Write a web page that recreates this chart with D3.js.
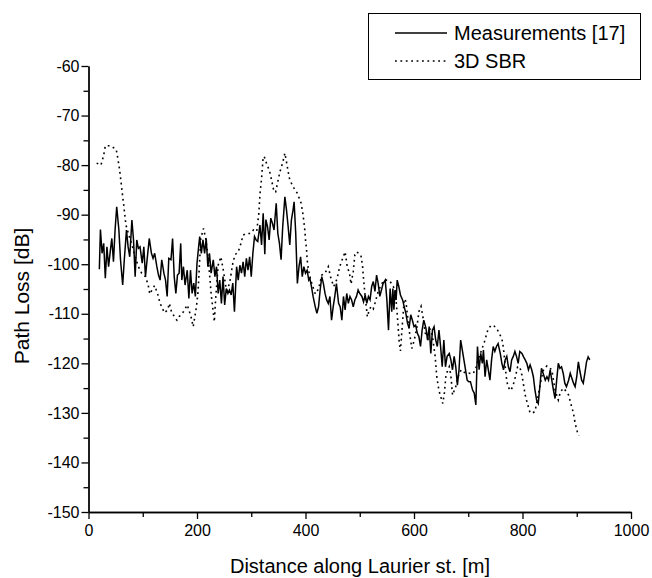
<!DOCTYPE html>
<html lang="en">
<head>
  <meta charset="UTF-8">
  <title>Path Loss along Laurier st.</title>
  <script src="https://d3js.org/d3.v7.min.js"></script>
  <style>
    body {
      margin: 0;
      background: #fff;
    }

    svg {
      display: block;
      font-family: "Liberation Sans", Arial, sans-serif;
    }

    .axis path,
    .axis line {
      stroke: #000;
      stroke-width: 1.3px;
    }

    .axis text {
      font-size: 16px;
      fill: #000;
    }

    .label {
      font-size: 20px;
      fill: #000;
    }
  </style>
</head>
<body>
  <div id="chart"></div>
  <script>
    // measured path loss (distance in m, loss in dB)
    const measDist = [20, 22, 25, 28, 31, 34, 37, 40, 43, 46, 49, 52, 56, 59, 63, 66, 70, 73, 76, 80,
      83, 86, 89, 92, 95, 99, 102, 105, 108, 112, 116, 119, 122, 126, 129, 132, 135, 139, 142, 145,
      148, 152, 155, 158, 161, 164, 167, 170, 172, 175, 178, 182, 185, 188, 191, 194, 197, 200, 203, 205,
      208, 211, 214, 217, 220, 223, 226, 230, 233, 236, 239, 242, 245, 248, 251, 254, 257, 260, 263, 266,
      269, 273, 276, 279, 282, 285, 288, 291, 294, 297, 300, 303, 306, 309, 312, 316, 319, 322, 325, 327,
      330, 333, 336, 339, 342, 346, 349, 352, 355, 358, 362, 365, 368, 371, 374, 377, 379, 382, 385, 388,
      391, 394, 397, 400, 403, 406, 408, 411, 414, 418, 421, 424, 427, 430, 433, 436, 439, 442, 445, 448,
      451, 454, 457, 461, 464, 467, 470, 473, 476, 479, 482, 485, 488, 491, 494, 497, 500, 504, 507, 510,
      513, 516, 519, 522, 525, 528, 531, 534, 537, 540, 543, 547, 550, 553, 556, 559, 561, 563, 565, 567,
      569, 572, 575, 579, 582, 585, 588, 591, 594, 597, 600, 603, 606, 609, 612, 615, 618, 622, 625, 628,
      631, 634, 637, 640, 643, 646, 649, 652, 655, 658, 661, 665, 668, 671, 674, 677, 680, 683, 686, 689,
      692, 695, 698, 701, 704, 708, 711, 714, 717, 720, 723, 726, 728, 731, 734, 737, 740, 743, 746, 749,
      752, 755, 759, 762, 765, 768, 771, 774, 777, 780, 783, 786, 789, 792, 795, 799, 802, 805, 808, 811,
      814, 817, 820, 823, 826, 829, 832, 835, 838, 842, 845, 848, 851, 854, 857, 860, 863, 866, 869, 872,
      875, 878, 881, 885, 888, 891, 894, 897, 900, 903, 906, 909, 912, 915, 918, 921, 924];
    const measLoss = [-101, -93, -97.8, -95.8, -102.8, -96.5, -100.5, -97.5, -94.8, -99.5, -93.1, -88.4, -93.1, -99.1, -104.2, -99.1, -93.1, -96.5, -98.5, -91.1,
      -95.1, -102.5, -95.1, -96.8, -96.5, -99.8, -96.5, -102.5, -99.1, -94.8, -97.8, -98.8, -97.8, -100.5, -102.2, -103.2, -99.1, -101.8, -103.2, -106.5,
      -98.8, -99.1, -94.8, -102.5, -105.9, -102.2, -101.8, -95.8, -103.2, -100.5, -104.2, -101.2, -106.9, -101.2, -105.9, -103.8, -106.5, -99.8, -96.5, -94.4,
      -97.8, -95.1, -97.8, -94.8, -100.5, -97.8, -101.8, -99.1, -102.5, -100.5, -105.9, -103.2, -107.9, -102.5, -108.2, -104.9, -105.9, -105.2, -106.2, -103.8,
      -109.6, -100.5, -103.2, -100.2, -101.8, -99.5, -102.5, -98.8, -101.2, -98.5, -102.5, -97.8, -94.4, -95.1, -95.4, -92.1, -96.1, -89.7, -98, -91,
      -92.4, -95.1, -90.7, -91.7, -93.1, -87.7, -93.8, -95.8, -99.1, -92.4, -86.4, -89.1, -92.4, -96.1, -91.1, -89.1, -87.4, -93.8, -103.9, -100.5,
      -98.5, -102.5, -100.5, -101.8, -101.2, -103.2, -102.8, -104.5, -106.5, -108.6, -109.9, -108.6, -105.2, -102.5, -103.9, -105.9, -107.2, -107.9, -106.5, -111.3,
      -108.6, -106.5, -103.9, -107.9, -108.6, -111.3, -106.5, -109.2, -105.9, -107.9, -106.5, -107.2, -108.6, -107.2, -106.5, -105.2, -105.9, -106.5, -107.6, -106.2,
      -107.9, -106.5, -107.2, -104.5, -103.5, -105.5, -102.2, -103.9, -106.5, -105.2, -103.9, -103.2, -107.2, -113.3, -104.9, -109.6, -104.9, -109.2, -105.2, -107.2,
      -103.2, -104.5, -106.2, -107.2, -108.6, -109.9, -111.9, -112.9, -110.2, -111.3, -112.6, -112.3, -113.9, -114.6, -116.6, -113.3, -111.3, -112.9, -115.3, -112.6,
      -118, -113.3, -112.6, -115.3, -116.6, -113.3, -116.6, -120.7, -115.3, -120.7, -118.6, -118, -119.3, -121.3, -118.6, -120.7, -124.4, -121.3, -115.3, -117.3,
      -119.3, -121.3, -123.4, -123.7, -123.7, -125.4, -126, -128.4, -116.6, -121.3, -118, -120, -117.3, -122.7, -119.3, -121.3, -123.4, -119.3, -116.6, -117.6,
      -116.6, -116, -118, -120, -121.3, -119.3, -118.6, -120.7, -121.7, -119.3, -118.6, -117.6, -118.6, -120, -117.6, -118, -118.7, -119.3, -120, -121.3,
      -120.3, -121.3, -122.7, -125.4, -127.4, -128.1, -124.7, -121, -122, -123.4, -122.7, -123.4, -121.3, -123.4, -125.4, -127.1, -123.4, -120, -121, -120.7,
      -122, -124, -124.7, -123.4, -122, -123, -124, -124.7, -122.7, -119.7, -121.7, -123.4, -124, -122, -119.7, -118.7, -119.3];

    // 3D SBR simulation
    const sbrDist = [15, 23, 28, 31, 40, 51, 54, 57, 59, 61, 63, 65, 67, 69, 74, 80, 86, 92, 98, 105,
      110, 113, 118, 122, 128, 132, 140, 146, 149, 153, 160, 163, 167, 175, 182, 189, 193, 199, 202, 205,
      207, 212, 216, 221, 226, 232, 234, 239, 244, 249, 255, 261, 266, 270, 276, 281, 285, 292, 298, 304,
      310, 314, 316, 319, 322, 324, 328, 334, 338, 342, 345, 349, 353, 358, 362, 365, 368, 371, 378, 385,
      392, 395, 397, 399, 400, 402, 403, 405, 408, 412, 418, 424, 430, 436, 442, 446, 452, 458, 463, 468,
      473, 477, 481, 484, 488, 491, 494, 498, 502, 505, 507, 510, 514, 518, 522, 525, 528, 534, 540, 546,
      551, 556, 562, 566, 569, 571, 573, 575, 578, 582, 585, 589, 592, 596, 600, 605, 609, 613, 617, 621,
      626, 630, 634, 639, 642, 646, 650, 653, 656, 659, 665, 668, 671, 677, 682, 687, 695, 702, 709, 714,
      719, 724, 730, 736, 742, 748, 754, 762, 765, 770, 773, 778, 782, 787, 791, 795, 799, 802, 805, 809,
      814, 819, 823, 828, 833, 838, 845, 854, 860, 866, 870, 876, 885, 889, 894, 897, 901, 904];
    const sbrLoss = [-79.6, -80, -78, -76.1, -76.1, -76.8, -78.6, -80.7, -82.5, -84.4, -86.4, -88.1, -90.1, -92.1, -94, -96, -98.5, -100.5, -101.8, -102.5,
      -104.2, -106, -105, -104.3, -106.2, -107.9, -109.8, -109.2, -107.9, -109.6, -110.9, -111.3, -110.6, -109.6, -108.2, -110.6, -112.6, -108.6, -105.5, -99,
      -94.8, -92.8, -94.8, -99.1, -105.9, -111.6, -107.6, -100.2, -98.5, -101.5, -105.9, -103.2, -99.8, -98.1, -97.5, -95.8, -94.1, -93.8, -93.8, -93.1,
      -93.4, -89.7, -86, -82.7, -78.3, -78.3, -79.6, -81.3, -83.3, -85.4, -85.4, -83.3, -81.3, -79.5, -77.6, -79.4, -81.3, -83, -84.5, -85.7,
      -87.7, -89.7, -91.4, -93.4, -95.1, -97.1, -99.1, -100.8, -102.5, -104, -106, -105, -102.2, -101.8, -100.5, -102.5, -104.5, -103, -100.5, -99,
      -97.5, -100.5, -101.8, -104, -101.5, -98.1, -97.5, -97.8, -98.1, -100.2, -103, -106.5, -110.6, -109, -108.5, -109, -107.9, -105.5, -104, -103.2,
      -103.2, -103.5, -104.5, -106, -110, -113, -116, -117.5, -113, -107, -107.5, -111.3, -114, -117, -115.5, -113, -109.6, -108.5, -111, -114,
      -115, -113, -114.5, -118.6, -122.7, -125.5, -127, -128.1, -126, -122.3, -120.7, -122.5, -126.4, -124.7, -122.5, -121.3, -122, -122, -122.1, -121,
      -119, -117.5, -115.6, -113.3, -112.3, -112.5, -113.3, -115, -117, -122.7, -124.7, -125.5, -124.7, -122.7, -120.7, -120.7, -122.4, -124.4, -126.4, -128.1,
      -130, -130, -129.7, -127, -124, -121.5, -120.5, -121.3, -125.4, -127.4, -125.7, -125, -126.4, -128.1, -130.1, -132.1, -133.8, -134.6];

    const xTicks = [0, 200, 400, 600, 800, 1000];
    const xMinor = [100, 300, 500, 700, 900];
    const yTicks = [-150, -140, -130, -120, -110, -100, -90, -80, -70, -60];
    const yMinor = [-145, -135, -125, -115, -105, -95, -85, -75, -65];
    const seriesNames = ["Measurements [17]", "3D SBR"];

    const width = 652,
          height = 578;

    const svg = d3.select("#chart")
      .append("svg")
      .attr("width", width)
      .attr("height", height);

    const x = d3.scaleLinear().domain([0, 1000]).range([88.5, 631]);
    const y = d3.scaleLinear().domain([-150, -60]).range([512, 66]);

    // plain hyphen minus, no thousands separator
    const fmt = d => String(d);

    // axes: major ticks with labels, minor ticks without
    svg.append("g")
      .attr("class", "axis")
      .attr("transform", "translate(0,512)")
      .call(d3.axisBottom(x).tickValues(xMinor).tickSize(5).tickSizeOuter(0).tickFormat(""));

    svg.append("g")
      .attr("class", "axis")
      .attr("transform", "translate(0,512)")
      .call(d3.axisBottom(x).tickValues(xTicks).tickSize(7).tickSizeOuter(0).tickPadding(6).tickFormat(fmt));

    svg.append("g")
      .attr("class", "axis")
      .attr("transform", "translate(88.5,0)")
      .call(d3.axisLeft(y).tickValues(yMinor).tickSize(5).tickSizeOuter(0).tickFormat(""));

    svg.append("g")
      .attr("class", "axis")
      .attr("transform", "translate(88.5,0)")
      .call(d3.axisLeft(y).tickValues(yTicks).tickSize(7).tickSizeOuter(0).tickPadding(2).tickFormat(fmt));

    // axis titles
    svg.append("text")
      .attr("class", "label")
      .attr("x", 360)
      .attr("y", 573)
      .attr("text-anchor", "middle")
      .text("Distance along Laurier st. [m]");

    svg.append("text")
      .attr("class", "label")
      .attr("transform", "translate(29,296) rotate(-90)")
      .attr("text-anchor", "middle")
      .style("font-size", "21px")
      .text("Path Loss [dB]");

    // lines
    const line = d3.line()
      .x(d => x(d[0]))
      .y(d => y(d[1]));

    svg.append("path")
      .datum(sbrDist.map((d, i) => [d, sbrLoss[i]]))
      .attr("fill", "none")
      .attr("stroke", "#000")
      .attr("stroke-width", 1.6)
      .attr("stroke-dasharray", "1.8,3.6")
      .attr("d", line);

    svg.append("path")
      .datum(measDist.map((d, i) => [d, measLoss[i]]))
      .attr("fill", "none")
      .attr("stroke", "#000")
      .attr("stroke-width", 1.5)
      .attr("d", line);

    // legend
    const legend = svg.append("g");

    legend.append("rect")
      .attr("x", 368.5)
      .attr("y", 13.5)
      .attr("width", 272)
      .attr("height", 66)
      .attr("fill", "#fff")
      .attr("stroke", "#000")
      .attr("stroke-width", 1);

    legend.selectAll("line")
      .data(seriesNames)
      .enter().append("line")
      .attr("x1", 395)
      .attr("x2", 447)
      .attr("y1", (d, i) => 33 + i * 28)
      .attr("y2", (d, i) => 33 + i * 28)
      .attr("stroke", "#000")
      .attr("stroke-width", 1.6)
      .attr("stroke-dasharray", (d, i) => i === 1 ? "1.8,3.6" : null);

    legend.selectAll("text")
      .data(seriesNames)
      .enter().append("text")
      .attr("class", "label")
      .attr("x", 454)
      .attr("y", (d, i) => 40 + i * 28)
      .text(d => d);
  </script>
</body>
</html>
